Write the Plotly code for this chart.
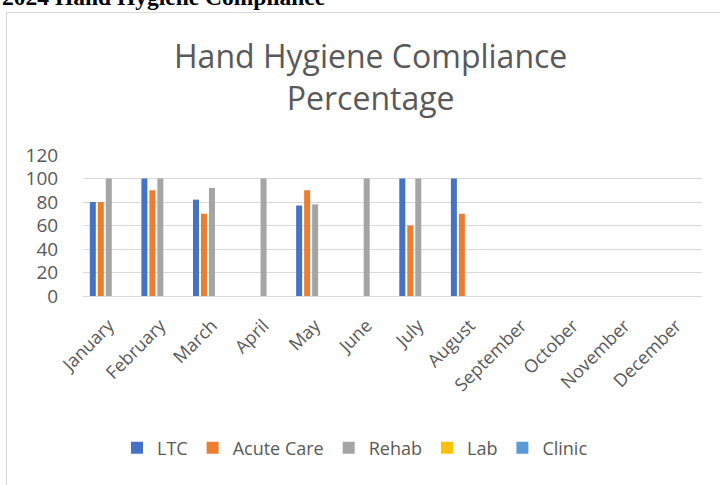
import plotly.graph_objects as go

months = ["January", "February", "March", "April", "May", "June", "July",
          "August", "September", "October", "November", "December"]
ltc = [80, 100, 82, None, 77, None, 100, 100, None, None, None, None]
acute_care = [80, 90, 70, None, 90, None, 60, 70, None, None, None, None]
rehab = [100, 100, 92, 100, 78, 100, 100, None, None, None, None, None]
lab = [None] * 12
clinic = [None] * 12

series_names = ["LTC", "Acute Care", "Rehab", "Lab", "Clinic"]
series_values = [ltc, acute_care, rehab, lab, clinic]
series_colors = ["#4472C4", "#ED7D31", "#A5A5A5", "#FFC000", "#5B9BD5"]

W, H = 720, 485
L, R, T, B = 83, 18, 155, 189
PW, PH = W - L - R, H - T - B

def px(x):
    return (x - L) / PW

def py(y):
    return (H - B - y) / PH

FONT = "Open Sans"
GRAY = "#595959"

fig = go.Figure()
for name, vals, col in zip(series_names, series_values, series_colors):
    fig.add_trace(go.Bar(x=months, y=vals, name=name, marker_color=col,
                         marker_line_width=0, showlegend=False, legendgroup=name))
# legend entries (square swatches like the original)
for name, col in zip(series_names, series_colors):
    fig.add_trace(go.Scatter(x=[None], y=[None], mode="markers", name=name,
                             legendgroup=name,
                             marker=dict(symbol="square", size=12, color=col)))

fig.update_layout(
    width=W, height=H,
    margin=dict(l=L, r=R, t=T, b=B),
    paper_bgcolor="white", plot_bgcolor="white",
    barmode="group", bargap=0.225, bargroupgap=0.25,
    font=dict(family=FONT, color=GRAY),
    showlegend=True,
    legend=dict(orientation="h", x=px(355), xanchor="center", y=py(448), yanchor="middle",
                font=dict(size=18, color=GRAY), itemwidth=30, traceorder="normal"),
    xaxis=dict(tickangle=-45, tickfont=dict(size=18, color=GRAY), showgrid=False,
               showline=True, linecolor="#D9D9D9", linewidth=1, ticks="",
               ticklabelstandoff=11, fixedrange=True),
    yaxis=dict(range=[0, 120], dtick=20, tickfont=dict(size=19, color=GRAY),
               showgrid=True, gridcolor="#D9D9D9", gridwidth=1, zeroline=False,
               showline=False, ticks="outside", ticklen=20,
               tickcolor="rgba(0,0,0,0)", fixedrange=True),
    shapes=[dict(type="rect", xref="paper", yref="paper",
                 x0=px(6.5), x1=px(730), y0=py(495), y1=py(12.5),
                 line=dict(color="#D9D9D9", width=1.2), fillcolor="rgba(0,0,0,0)",
                 layer="below")],
    annotations=[
        dict(text="Hand Hygiene Compliance<br>Percentage", xref="paper", yref="paper",
             x=px(370), y=py(76), xanchor="center", yanchor="middle", showarrow=False,
             font=dict(family=FONT, size=32, color=GRAY)),
        dict(text="<b>2024 Hand Hygiene Compliance</b>", xref="paper", yref="paper",
             x=px(0), y=py(12), xanchor="left", yanchor="bottom", showarrow=False,
             font=dict(family="Liberation Serif", size=23.5, color="black")),
    ],
)

fig.write_html("out.html", config={"displayModeBar": False},
               post_script="document.body.style.margin='0';")
